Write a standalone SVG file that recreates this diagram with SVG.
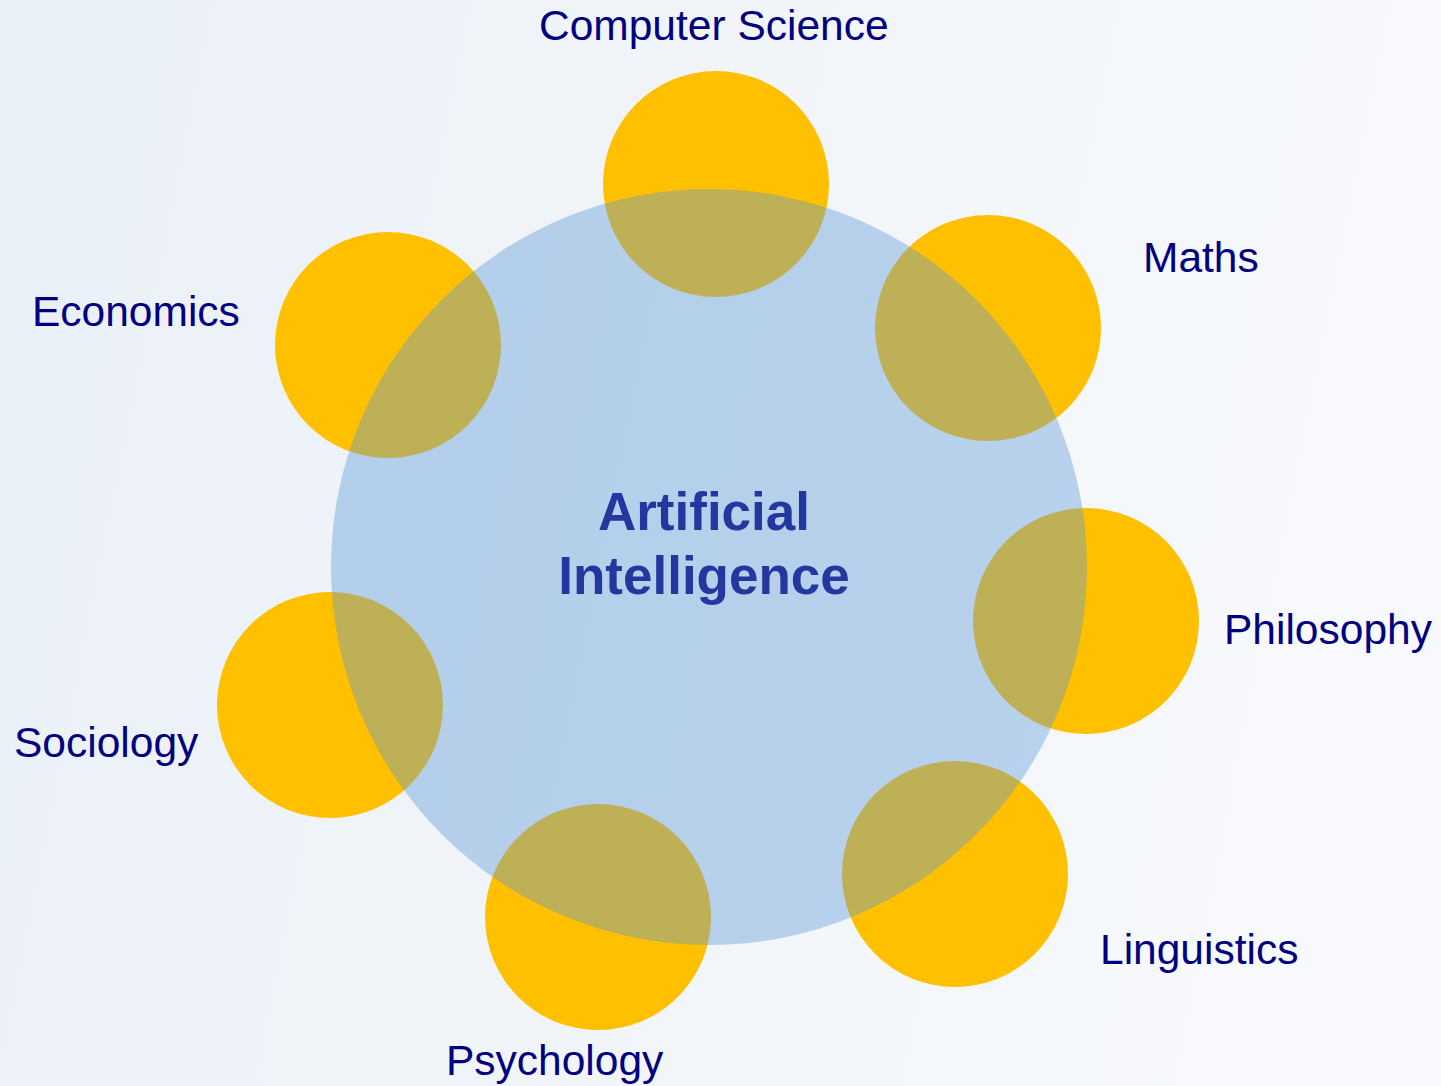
<svg xmlns="http://www.w3.org/2000/svg" width="1441" height="1086" viewBox="0 0 1441 1086">
<defs>
<linearGradient id="bg" x1="0" y1="0" x2="1" y2="0.15">
<stop offset="0" stop-color="#EAF0F8"/>
<stop offset="0.5" stop-color="#F1F5F9"/>
<stop offset="1" stop-color="#F7F9FC"/>
</linearGradient>
</defs>
<style>
.sat{fill:#FFC000}
.lbl{font-family:"Liberation Sans",Arial,sans-serif;font-size:42.5px;fill:#000080}
.core{fill:#5D98D7;fill-opacity:0.4}
.ai{font-family:"Liberation Sans",Arial,sans-serif;font-size:53px;font-weight:bold;fill:#22389F;text-anchor:middle}
</style>
<rect x="0" y="0" width="1441" height="1086" fill="url(#bg)"/>
<g id="connectors"></g>
<g id="cs"><circle class="sat" cx="716" cy="184" r="113"/><text class="lbl" x="539" y="40">Computer Science</text></g>
<g id="maths"><circle class="sat" cx="988" cy="328" r="113"/><text class="lbl" x="1143" y="272">Maths</text></g>
<g id="philosophy"><circle class="sat" cx="1086" cy="621" r="113"/><text class="lbl" x="1224" y="644">Philosophy</text></g>
<g id="linguistics"><circle class="sat" cx="955" cy="874" r="113"/><text class="lbl" x="1100" y="964">Linguistics</text></g>
<g id="psychology"><circle class="sat" cx="598" cy="917" r="113"/><text class="lbl" x="446" y="1075">Psychology</text></g>
<g id="sociology"><circle class="sat" cx="330" cy="705" r="113"/><text class="lbl" x="14" y="757">Sociology</text></g>
<g id="economics"><circle class="sat" cx="388" cy="345" r="113"/><text class="lbl" x="32" y="326">Economics</text></g>
<g id="ai"><circle class="core" cx="709" cy="567" r="378"/><text class="ai" x="704" y="530">Artificial</text><text class="ai" x="704" y="594">Intelligence</text></g>
</svg>
